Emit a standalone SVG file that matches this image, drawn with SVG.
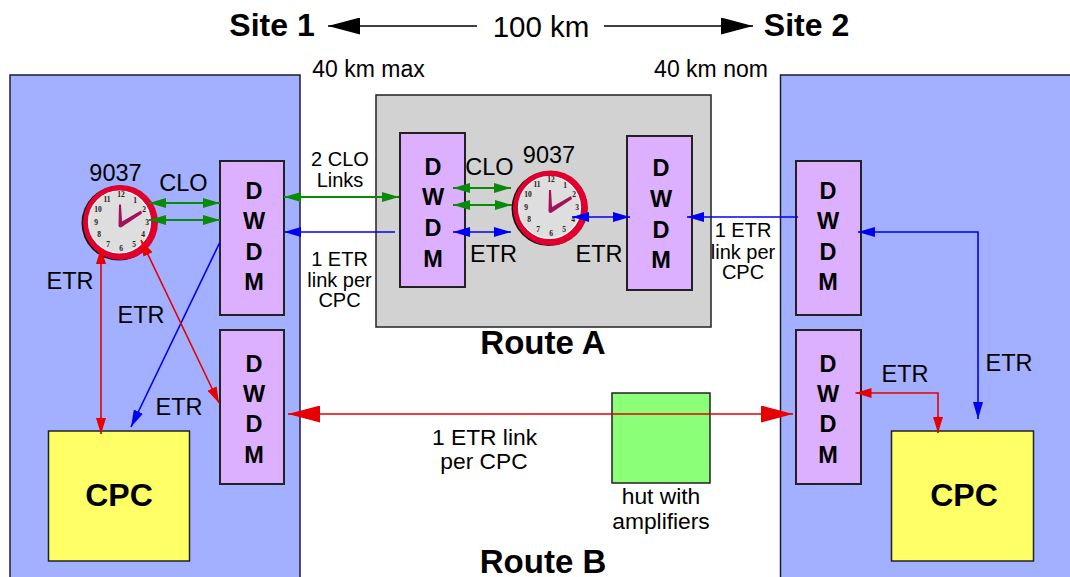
<svg xmlns="http://www.w3.org/2000/svg" width="1070" height="577" viewBox="0 0 1070 577">
<style>
text{font-family:"Liberation Sans",Arial,sans-serif;fill:#000}
.site{fill:#a3b0ff;stroke:#1c1c2c;stroke-width:1.5}
.dw{fill:#dcb0ff;stroke:#222;stroke-width:2}
.cpc{fill:#ffff66;stroke:#222;stroke-width:1.5}
.dt{font-size:23.5px;font-weight:bold;text-anchor:middle}
.big{font-size:32px;font-weight:bold;text-anchor:middle}
.rt{font-size:33px;font-weight:bold;text-anchor:middle}
.lbl{font-size:23.5px;text-anchor:middle}
.km{font-size:23px;text-anchor:middle}
.sm{font-size:20px;text-anchor:middle}
.md{font-size:22.8px;text-anchor:middle}
.n{font-family:"Liberation Serif",serif;font-size:7.5px;font-weight:bold;text-anchor:middle;fill:#222}
.g{fill:none;stroke:#0a8a0a;stroke-width:1.8}
.b{fill:none;stroke:#0000f0;stroke-width:1.6}
.r{fill:none;stroke:#e60000;stroke-width:1.6}
.k{fill:none;stroke:#000;stroke-width:1.5}
</style>
<defs>
<marker id="mg" markerUnits="userSpaceOnUse" markerWidth="18" markerHeight="10" refX="17" refY="5" orient="auto-start-reverse"><path d="M0 0L17 5L0 10z" fill="#0a8a0a"/></marker>
<marker id="mb" markerUnits="userSpaceOnUse" markerWidth="18" markerHeight="10" refX="17" refY="5" orient="auto-start-reverse"><path d="M0 0L17 5L0 10z" fill="#0000f0"/></marker>
<marker id="mr" markerUnits="userSpaceOnUse" markerWidth="17" markerHeight="10" refX="16" refY="5" orient="auto-start-reverse"><path d="M0 0L16 5L0 10z" fill="#e60000"/></marker>
<marker id="mrb" markerUnits="userSpaceOnUse" markerWidth="33" markerHeight="17" refX="32" refY="8.500" orient="auto-start-reverse"><path d="M0 0L32 8.500L0 17z" fill="#e60000"/></marker>
<marker id="mk" markerUnits="userSpaceOnUse" markerWidth="33" markerHeight="17" refX="32" refY="8.500" orient="auto-start-reverse"><path d="M0 0L32 8.500L0 17z" fill="#000"/></marker>
<g id="clock">
<circle cx="-1" cy="0.600" r="37.500" fill="#1a1010"/>
<circle cx="0.500" cy="0" r="37.500" fill="#e0002e"/>
<circle cx="-0.500" cy="-0.500" r="31" fill="#dedede" stroke="#fff" stroke-width="1.200"/>
<text class="n" x="1" y="-26">12</text><text class="n" x="15" y="-20">1</text><text class="n" x="24" y="-11">2</text><text class="n" x="27" y="2">3</text><text class="n" x="23" y="14">4</text><text class="n" x="14" y="24">5</text><text class="n" x="1" y="28">6</text><text class="n" x="-12" y="24">7</text><text class="n" x="-21" y="14">8</text><text class="n" x="-24" y="2">9</text><text class="n" x="-22" y="-11">10</text><text class="n" x="-13" y="-21">11</text>
<path d="M-1.500 1.500L-1 -18L1 -18L2 -1L21 -12L22 -9L1 5Q-2 5-1.500 1.500z" fill="#a5105a"/>
</g>
</defs>
<g id="site1"><rect class="site" x="10" y="75" width="290" height="510"/></g>
<g id="site2"><rect class="site" x="780.500" y="75" width="300" height="510"/></g>
<g id="routeA-box"><rect x="376" y="95" width="335" height="232" fill="#d2d2d2" stroke="#222" stroke-width="1.500"/></g>
<g id="hut"><rect x="612" y="393" width="98" height="90" fill="#8cff78" stroke="#222" stroke-width="1.500"/></g>
<g id="cpc1"><rect class="cpc" x="48.500" y="431" width="141" height="130"/><text class="big" x="119" y="506">CPC</text></g>
<g id="cpc2"><rect class="cpc" x="891.500" y="431" width="142" height="130"/><text class="big" x="964" y="506">CPC</text></g>
<g id="clock1"><use href="#clock" x="120" y="222.500"/></g>
<g id="clock2"><use href="#clock" x="550" y="208"/></g>
<g id="dwdm-l1"><rect class="dw" x="220" y="161" width="64" height="154"/><text class="dt" x="254" y="199">D</text><text class="dt" x="254" y="229">W</text><text class="dt" x="254" y="260">D</text><text class="dt" x="254" y="290">M</text></g>
<g id="dwdm-l2"><rect class="dw" x="220" y="330" width="64" height="154"/><text class="dt" x="254" y="372">D</text><text class="dt" x="254" y="402">W</text><text class="dt" x="254" y="432">D</text><text class="dt" x="254" y="463">M</text></g>
<g id="dwdm-a1"><rect class="dw" x="400" y="133" width="65" height="154"/><text class="dt" x="433" y="175">D</text><text class="dt" x="433" y="205">W</text><text class="dt" x="433" y="236">D</text><text class="dt" x="433" y="267">M</text></g>
<g id="dwdm-a2"><rect class="dw" x="627" y="136" width="65" height="154"/><text class="dt" x="661" y="176">D</text><text class="dt" x="661" y="207">W</text><text class="dt" x="661" y="238">D</text><text class="dt" x="661" y="268">M</text></g>
<g id="dwdm-r1"><rect class="dw" x="796" y="161" width="65" height="154"/><text class="dt" x="828" y="199">D</text><text class="dt" x="828" y="229">W</text><text class="dt" x="828" y="260">D</text><text class="dt" x="828" y="290">M</text></g>
<g id="dwdm-r2"><rect class="dw" x="796" y="330" width="65" height="154"/><text class="dt" x="828" y="372">D</text><text class="dt" x="828" y="402">W</text><text class="dt" x="828" y="432">D</text><text class="dt" x="828" y="463">M</text></g>
<g id="connectors">
<path class="k" d="M477 26H328" marker-end="url(#mk)"/>
<path class="k" d="M604 26H753" marker-end="url(#mk)"/>
<path class="g" d="M149 203H220" marker-start="url(#mg)" marker-end="url(#mg)"/>
<path class="g" d="M149 220H220" marker-start="url(#mg)" marker-end="url(#mg)"/>
<path class="g" d="M284 197H399" marker-start="url(#mg)" marker-end="url(#mg)"/>
<path class="g" d="M453 188H511" marker-start="url(#mg)" marker-end="url(#mg)"/>
<path class="g" d="M453 205H512" marker-start="url(#mg)" marker-end="url(#mg)"/>
<path class="b" d="M395 232H284" marker-end="url(#mb)"/>
<path class="b" stroke-width="2" d="M453 232H511" marker-start="url(#mb)" marker-end="url(#mb)"/>
<path class="b" stroke-width="2" d="M572 217H630" marker-start="url(#mb)" marker-end="url(#mb)"/>
<path class="b" d="M798 217H687" marker-end="url(#mb)"/>
<path class="b" d="M220 242L131 427" marker-end="url(#mb)"/>
<path class="b" d="M978 419V232H858" marker-start="url(#mb)" marker-end="url(#mb)"/>
<path class="r" d="M101 434V248" marker-start="url(#mr)" marker-end="url(#mr)"/>
<path class="r" d="M219 403L141 240" marker-start="url(#mr)" marker-end="url(#mr)"/>
<path class="r" d="M288 414H793" marker-start="url(#mrb)" marker-end="url(#mrb)"/>
<path class="r" d="M855.500 393H938V433" marker-start="url(#mr)" marker-end="url(#mr)"/>
</g>
<g id="labels">
<text class="big" x="272" y="36">Site 1</text>
<text class="big" x="806.500" y="36">Site 2</text>
<text x="541" y="37" font-size="29.500" text-anchor="middle">100 km</text>
<text class="km" x="368.500" y="77">40 km max</text>
<text class="km" x="711" y="77">40 km nom</text>
<text class="rt" x="543" y="354">Route A</text>
<text class="rt" x="543" y="573">Route B</text>
<text class="lbl" x="115.500" y="181">9037</text>
<text class="lbl" x="549" y="163">9037</text>
<text class="lbl" x="183.500" y="191">CLO</text>
<text class="lbl" x="489.500" y="175">CLO</text>
<text class="lbl" x="70" y="289">ETR</text>
<text class="lbl" x="141" y="323">ETR</text>
<text class="lbl" x="179" y="415">ETR</text>
<text class="lbl" x="493.500" y="262">ETR</text>
<text class="lbl" x="599" y="262">ETR</text>
<text class="lbl" x="905" y="382">ETR</text>
<text class="lbl" x="1009" y="371">ETR</text>
<text class="sm" x="340" y="166">2 CLO</text><text class="sm" x="340" y="187">Links</text>
<text class="sm" x="339.500" y="266">1 ETR</text><text class="sm" x="339.500" y="287">link per</text><text class="sm" x="339.500" y="307">CPC</text>
<text class="sm" x="743" y="237">1 ETR</text><text class="sm" x="743" y="259">link per</text><text class="sm" x="743" y="279">CPC</text>
<text class="md" x="484.500" y="445">1 ETR link</text><text class="md" x="484" y="469">per CPC</text>
<text class="md" x="661" y="504">hut with</text><text class="md" x="661" y="529">amplifiers</text>
</g>
</svg>
